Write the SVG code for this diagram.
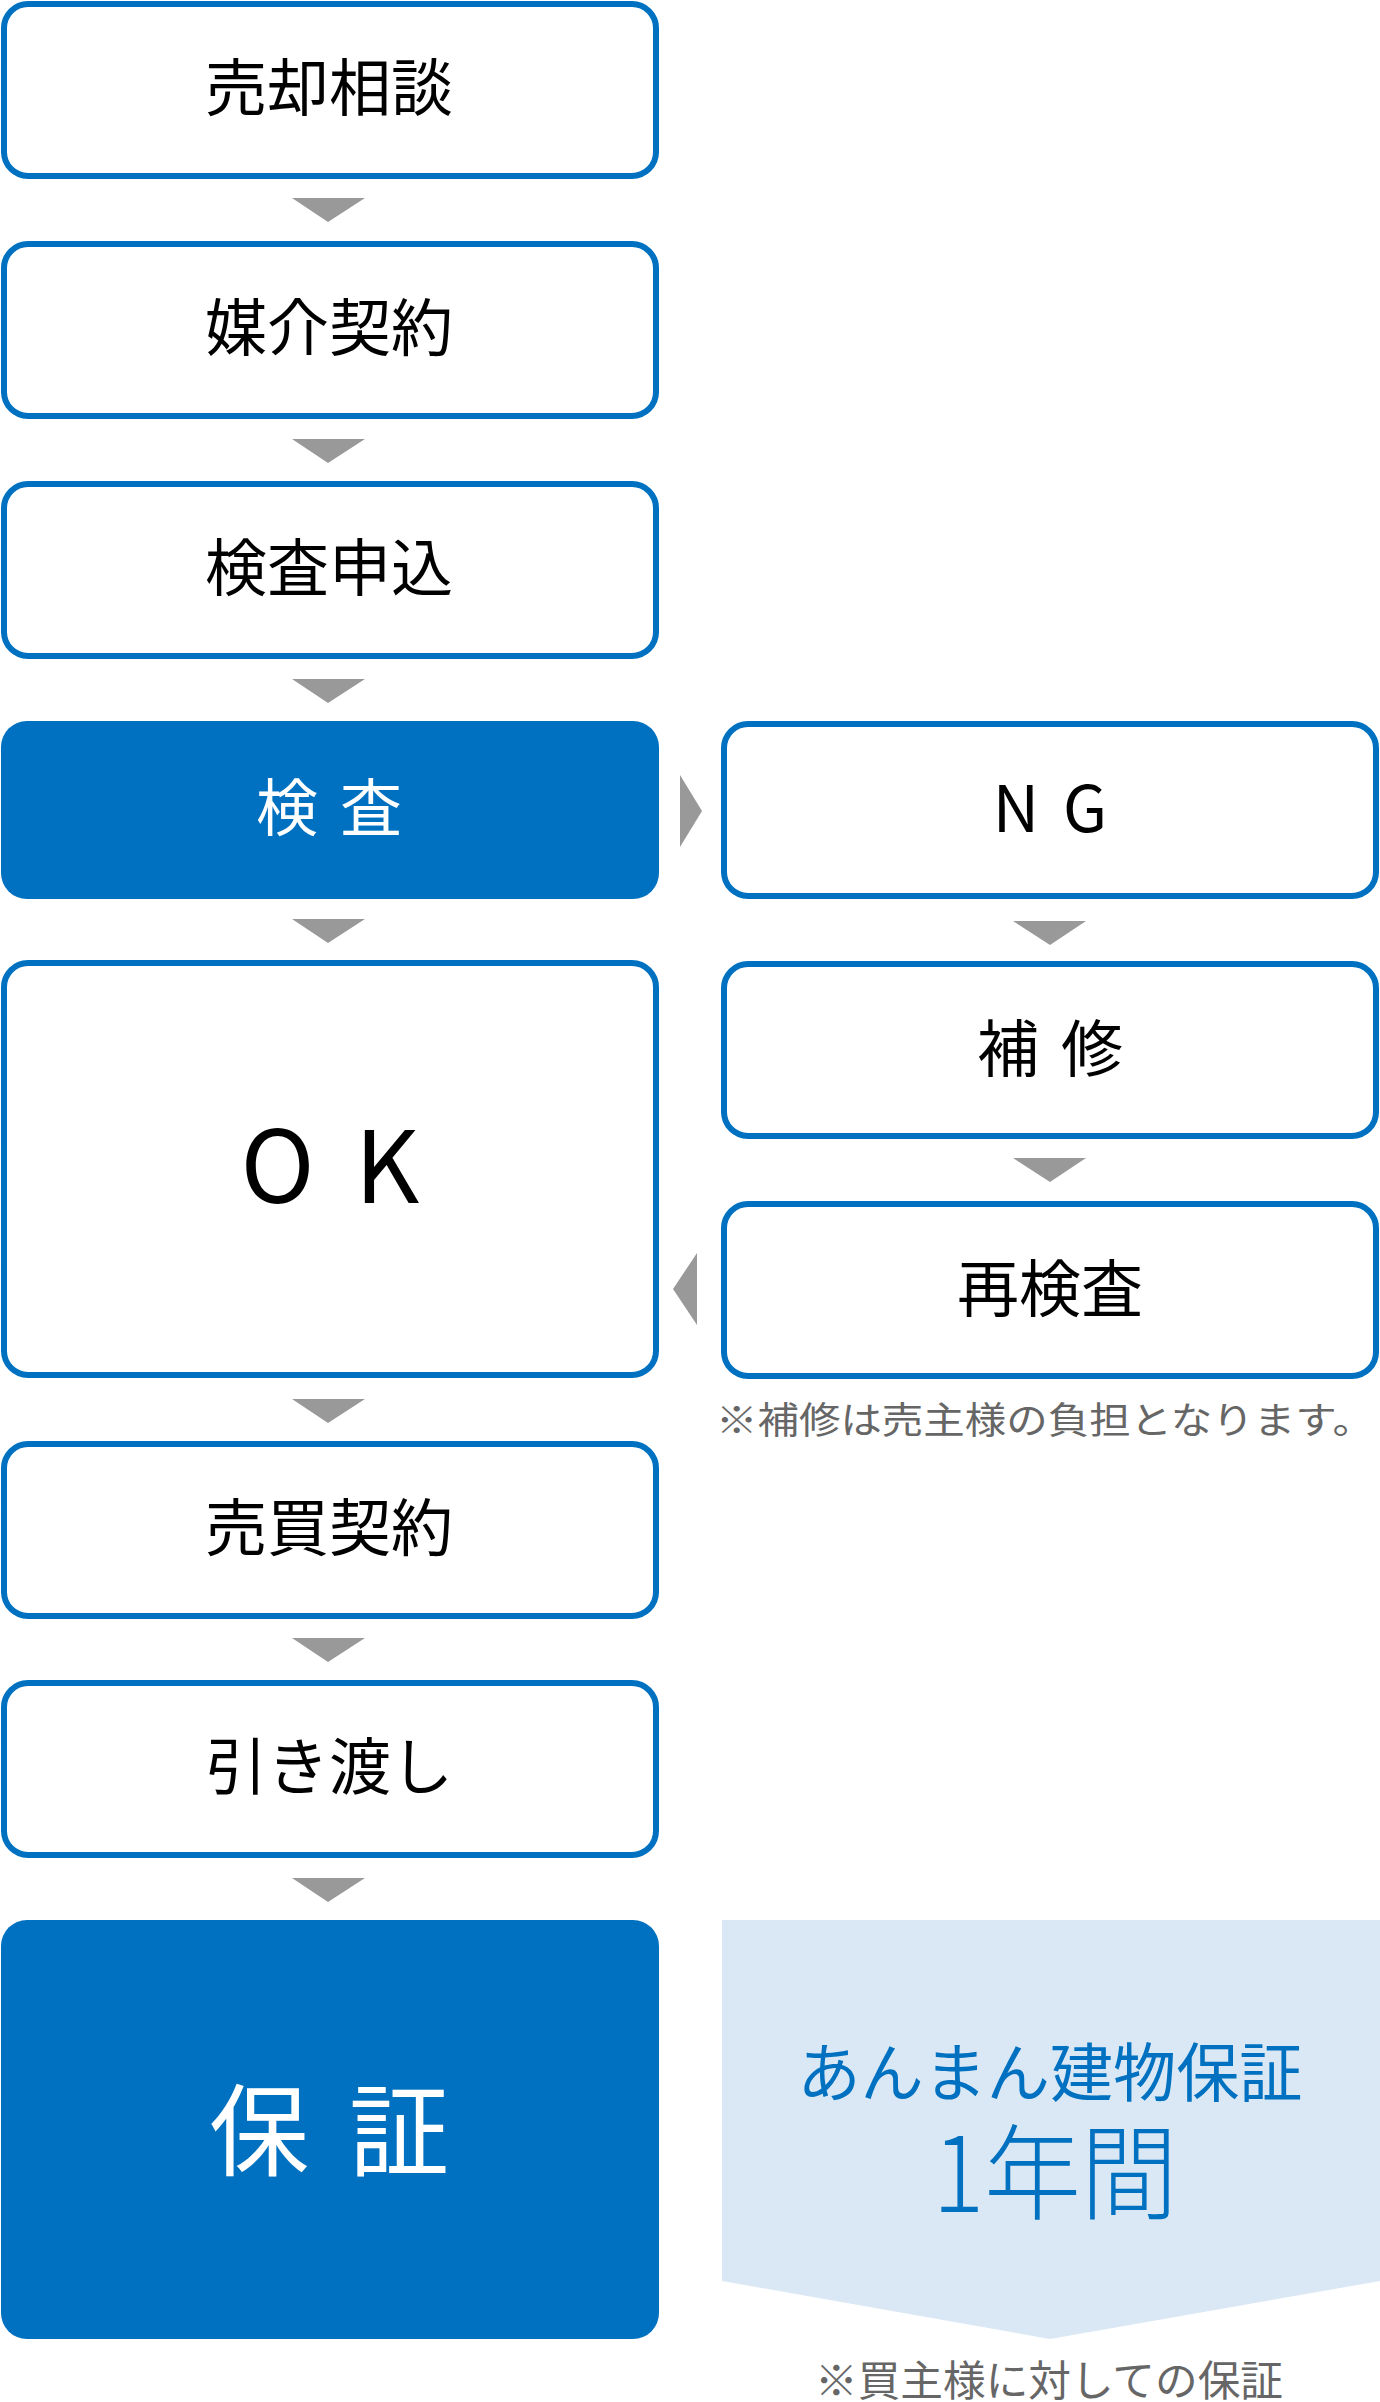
<svg xmlns="http://www.w3.org/2000/svg" width="1380" height="2402" viewBox="0 0 1380 2402">
<style>
.b{fill:#fff;stroke:#0071C1;stroke-width:6}
.f{fill:#0071C1}
.t{font-family:"Noto Sans CJK JP","Noto Sans",sans-serif;text-anchor:middle;fill:#000}
.w{fill:#fff}
.a{fill:#999}
.n{font-family:"Noto Sans CJK JP",sans-serif;fill:#666}
</style>
<rect width="1380" height="2402" fill="#fff"/>
<g id="connectors">
<polygon class="a" points="292,198 365,198 328,222"/>
<polygon class="a" points="292,439 365,439 328,463"/>
<polygon class="a" points="292,679 365,679 328,703"/>
<polygon class="a" points="292,919 365,919 328,943"/>
<polygon class="a" points="292,1399 365,1399 328,1423"/>
<polygon class="a" points="292,1638 365,1638 328,1662"/>
<polygon class="a" points="292,1878 365,1878 328,1902"/>
<polygon class="a" points="1013,921 1086,921 1050,945"/>
<polygon class="a" points="1013,1158 1086,1158 1050,1182"/>
<polygon class="a" points="680,775 702,811 680,847"/>
<polygon class="a" points="697,1253 673,1289 697,1325"/>
</g>
<g id="n1"><rect class="b" x="4" y="4" width="652" height="172" rx="24"/><text class="t" x="329" y="111" font-size="62">売却相談</text></g>
<g id="n2"><rect class="b" x="4" y="244" width="652" height="172" rx="24"/><text class="t" x="329" y="351" font-size="62">媒介契約</text></g>
<g id="n3"><rect class="b" x="4" y="484" width="652" height="172" rx="24"/><text class="t" x="329" y="591" font-size="62">検査申込</text></g>
<g id="n4"><rect class="f" x="1" y="721" width="658" height="178" rx="26"/><text class="t w" x="340" y="831" font-size="62" letter-spacing="22">検査</text></g>
<g id="n5"><rect class="b" x="4" y="963" width="652" height="412" rx="24"/><text class="t" x="350" y="1203" font-size="100" letter-spacing="40">OK</text></g>
<g id="n6"><rect class="b" x="4" y="1444" width="652" height="172" rx="24"/><text class="t" x="329" y="1551" font-size="62">売買契約</text></g>
<g id="n7"><rect class="b" x="4" y="1683" width="652" height="172" rx="24"/><text class="t" x="329" y="1790" font-size="62">引き渡し</text></g>
<g id="n8"><rect class="f" x="1" y="1920" width="658" height="419" rx="26"/><text class="t w" x="349" y="2168" font-size="100" letter-spacing="40">保証</text></g>
<g id="n9"><rect class="b" x="724" y="724" width="652" height="172" rx="24"/><text class="t" x="1062" y="832" font-size="64" letter-spacing="24">NG</text></g>
<g id="n10"><rect class="b" x="724" y="964" width="652" height="172" rx="24"/><text class="t" x="1061" y="1072" font-size="62" letter-spacing="22">補修</text></g>
<g id="n11"><rect class="b" x="724" y="1204" width="652" height="172" rx="24"/><text class="t" x="1050" y="1312" font-size="62">再検査</text></g>
<text class="n" x="716" y="1434" font-size="37" textLength="658" lengthAdjust="spacingAndGlyphs">※補修は売主様の負担となります。</text>
<g id="n12"><polygon fill="#DAE8F5" points="722,1920 1380,1920 1380,2281 1050,2339 722,2281"/>
<text class="t" x="1050" y="2096" font-size="64" style="fill:#0071C1" textLength="505" lengthAdjust="spacingAndGlyphs">あんまん建物保証</text>
<text class="t" x="1055" y="2212" font-size="104" font-weight="300" style="fill:#0071C1" textLength="245" lengthAdjust="spacingAndGlyphs">1年間</text></g>
<text class="n" x="815" y="2396" font-size="42" textLength="468" lengthAdjust="spacingAndGlyphs">※買主様に対しての保証</text>
</svg>
